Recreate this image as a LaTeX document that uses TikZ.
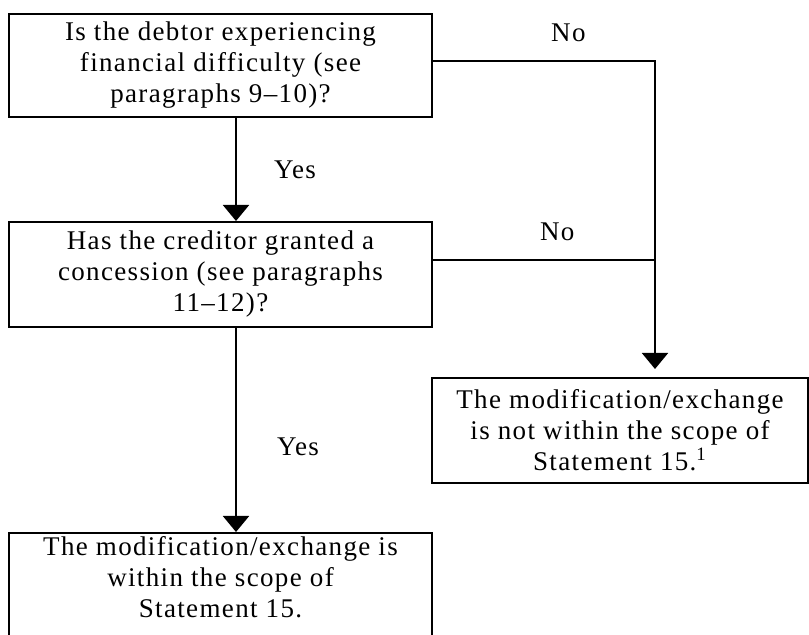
\documentclass[tikz,border=0pt]{standalone}
\usepackage{fontspec}
\setmainfont{Liberation Serif}[LetterSpace=5]
\usetikzlibrary{arrows.meta}

\begin{document}
\begin{tikzpicture}[x=0.5pt, y=-0.5pt,
        qbox/.style={draw, rectangle, line width=1pt, inner sep=0pt, align=center,
            font=\fontsize{13.5}{15.5}\selectfont},
        flow/.style={line width=1pt, -{Triangle[width=13pt, length=8pt]}},
        lbl/.style={inner sep=0pt, font=\fontsize{13.5}{15.5}\selectfont}]
        \useasboundingbox (0,0) rectangle (809,635);

        \node[qbox, minimum width=211.5pt, minimum height=51.5pt] (debtor) at (220.5,65.5) {
            Is the debtor experiencing\\ financial difficulty (see\\ paragraphs 9--10)?
        };
        \node[qbox, minimum width=211.5pt, minimum height=52.5pt] (creditor) at (220.5,274.5) {
            Has the creditor granted a\\ concession (see paragraphs\\ 11--12)?
        };
        \node[qbox, minimum width=188pt, minimum height=52.5pt] (outscope) at (620,430.5) {
            The modification/exchange\\ is not within the scope of\\ Statement 15.\textsuperscript{1}
        };
        % box runs off the bottom edge; the deep rule lifts its text
        \node[qbox, minimum width=211.5pt, minimum height=55pt, anchor=north] (inscope) at (220.5,532) {
            The modification/exchange is\\ within the scope of\\ Statement 15.\rule[-11pt]{0pt}{0pt}
        };

        \coordinate (join) at (655,260);

        \draw[flow] ([xshift=7.75pt]debtor.south) -- ([xshift=7.75pt]creditor.north)
            node[lbl, pos=0.5, anchor=west, xshift=18.5pt] (yesa) {Yes};
        \draw[flow] ([xshift=7.75pt]creditor.south) -- ([xshift=7.75pt]inscope.north)
            node[lbl, pos=0.58, anchor=west, xshift=20pt] (yesb) {Yes};
        \draw[flow, shorten >=4pt] ([yshift=2.25pt]debtor.east) -| ([xshift=17.5pt]outscope.north)
            node[lbl, pos=0.305, yshift=14pt] (noa) {No};
        \draw[line width=1pt] ([yshift=7.25pt]creditor.east) -- (join)
            node[lbl, pos=0.56, yshift=14pt] (nob) {No};
\end{tikzpicture}
\end{document}
